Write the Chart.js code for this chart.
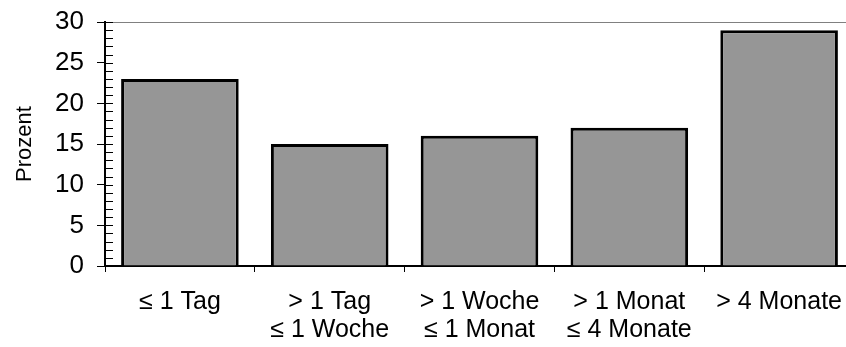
<!DOCTYPE html>
<html>
<head>
<meta charset="utf-8">
<script src="https://cdn.jsdelivr.net/npm/chart.js@4/dist/chart.umd.min.js"></script>
<style>
  html, body { margin: 0; padding: 0; overflow: hidden; background: #fff; }
  canvas { display: block; }
</style>
</head>
<body>
<canvas id="myChart" width="858" height="347" style="width:858px;height:347px"></canvas>
<script>
var categories = [
    ["\u2264 1 Tag"],
    ["> 1 Tag", "\u2264 1 Woche"],
    ["> 1 Woche", "\u2264 1 Monat"],
    ["> 1 Monat", "\u2264 4 Monate"],
    ["> 4 Monate"]
];
var prozent = [23, 15, 16, 17, 29];
var yTicks = [0, 5, 10, 15, 20, 25, 30];

var fontName = "'Liberation Sans', Arial, sans-serif";

// short ticks inside the plot at every unit
var minorTicks = {
    id: 'minorTicks',
    afterDatasetsDraw: function(chart) {
        var y = chart.scales.y;
        var ctx = chart.ctx;
        ctx.save();
        ctx.strokeStyle = '#000';
        ctx.lineWidth = 1;
        for (var v = 0; v <= 30; v++) {
            var py = Math.round(y.getPixelForValue(v)) + 0.5;
            ctx.beginPath();
            ctx.moveTo(y.right, py);
            ctx.lineTo(y.right + 8, py);
            ctx.stroke();
        }
        ctx.restore();
    }
};

var ctx = document.getElementById("myChart");

var myChart = new Chart(ctx, {
    type: 'bar',
    data: {
        labels: categories,
        datasets: [{
            data: prozent,
            backgroundColor: "#969696",
            borderColor: "#000000",
            borderWidth: 3,
            categoryPercentage: 0.785,
            barPercentage: 1.0
        }]
    },
    options: {
        responsive: false,
        animation: false,
        layout: { padding: { top: 22, right: 0, left: 0, bottom: 0 } },
        plugins: {
            legend: { display: false },
            tooltip: { enabled: false }
        },
        scales: {
            x: {
                offset: true,
                grid: {
                    offset: true,
                    drawOnChartArea: false,
                    tickLength: 6,
                    color: '#000'
                },
                border: { color: '#000', width: 2 },
                ticks: {
                    color: '#000',
                    font: { family: fontName, size: 25, lineHeight: 1.12 },
                    padding: 16,
                    maxRotation: 0,
                    autoSkip: false
                },
                afterFit: function(s) { s.height = 81; }
            },
            y: {
                min: 0,
                max: 30,
                afterBuildTicks: function(s) {
                    s.ticks = yTicks.map(function(v) { return { value: v }; });
                },
                grid: {
                    color: function(c) { return c.tick && c.tick.value === 30 ? '#808080' : 'rgba(0,0,0,0)'; },
                    tickColor: '#000',
                    tickLength: 8
                },
                border: { color: '#000', width: 2 },
                ticks: {
                    color: '#000',
                    font: { family: fontName, size: 26 },
                    padding: 13
                },
                title: {
                    display: true,
                    text: 'Prozent',
                    color: '#000',
                    font: { family: fontName, size: 22 },
                    padding: { top: 12, bottom: 0 }
                },
                afterFit: function(s) {
                    s.width = 105;
                    s.paddingTop = 0;
                    s.paddingBottom = 0;
                }
            }
        }
    },
    plugins: [minorTicks]
});
</script>
</body>
</html>
